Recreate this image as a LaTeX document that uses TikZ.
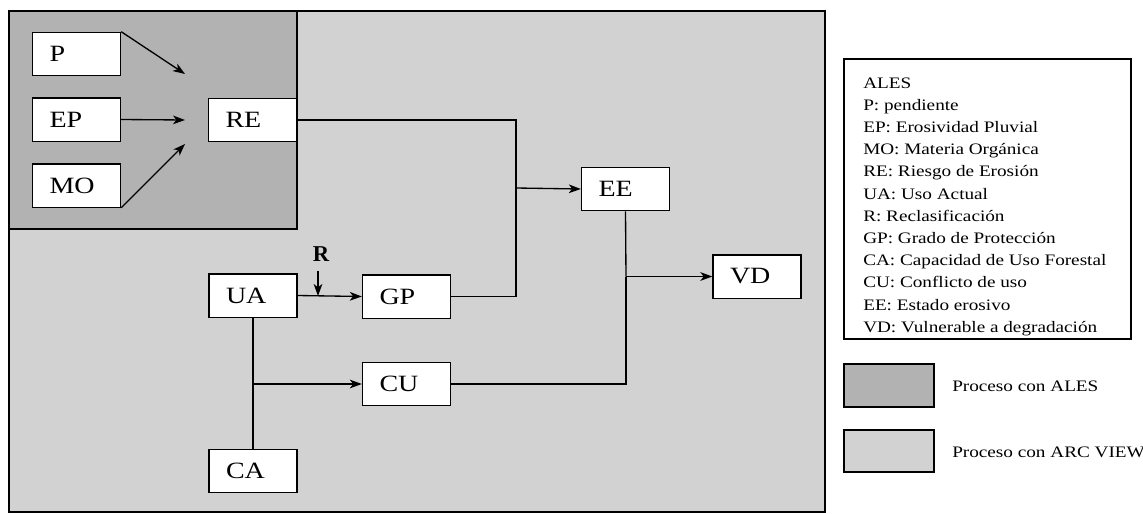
\documentclass[tikz,border=0pt]{standalone}
\usepackage{fontspec}
\setmainfont{Liberation Serif}
\newfontfamily\widefont[FakeStretch=1.2]{Liberation Serif}
\usetikzlibrary{arrows.meta}
\begin{document}
\begin{tikzpicture}[x=0.75pt,y=-0.75pt,
  box/.style={draw,fill=white,line width=1pt,minimum height=32.5pt,
    text width=40.5pt,inner xsep=12.75pt,align=left,font=\widefont\fontsize{17.5}{19}\selectfont},
  conn/.style={line width=1pt},
  arr/.style={conn,-{Stealth[length=9pt,width=6.5pt,inset=2.5pt]}},
  legtxt/.style={anchor=base west,inner sep=0pt,font=\widefont\fontsize{12}{13}\selectfont}]
\useasboundingbox (0,0) rectangle (1143,514);
% regions
\path[draw,line width=1pt,fill=gray!35] (9,11) rectangle (825,512);
\path[draw,line width=1pt,fill=gray!60] (9,11) rectangle (297,229);
% nodes
\node[box] (P) at (76.5,54) {P};
\node[box] (EP) at (76.5,119.5) {EP};
\node[box] (MO) at (76.5,185.5) {MO};
\node[box] (RE) at (252.5,120) {RE};
\node[box] (EE) at (625.5,189) {EE};
\node[box] (VD) at (757,276.5) {VD};
\node[box] (UA) at (253,295.5) {UA};
\node[box] (GP) at (406.5,296.5) {GP};
\node[box] (CU) at (406.5,384) {CU};
\node[box] (CA) at (253,471) {CA};
\node[font=\bfseries\fontsize{17}{18}\selectfont,inner sep=1pt] (R) at (321,254) {R};
% junction coordinates
\coordinate (cP) at (185,74);
\coordinate (cE) at (185,120);
\coordinate (cM) at (185,144);
\coordinate (j) at (516,188);
\coordinate (k) at (626,276.5);
\coordinate (m) at (253,384);
\coordinate (r) at (318,296);
% connectors
\draw[arr] (P.north east) -- (cP);
\draw[arr] (EP.east) -- (cE);
\draw[arr] (MO.south east) -- (cM);
\draw[conn] (RE.east) -| (j);
\draw[conn] (GP.east) -| (j);
\draw[arr] (j) -- (EE.west);
\draw[conn] (EE.south) -- (k);
\draw[conn] (CU.east) -| (k);
\draw[arr] (k) -- (VD.west);
\draw[conn] (UA.south) -- (CA.north);
\draw[arr] (m) -- (CU.west);
\draw[arr] (UA.east) -- (GP.west);
\draw[arr] (318,271) -- (r);
% legend
\draw[line width=0.8pt] (844,59) rectangle (1131,339);
\node[legtxt] (l1) at (863,88) {ALES};
\node[legtxt] (l2) at (863,110.2) {P: pendiente};
\node[legtxt] (l3) at (863,132.4) {EP: Erosividad Pluvial};
\node[legtxt] (l4) at (863,154.6) {MO: Materia Orgánica};
\node[legtxt] (l5) at (863,176.8) {RE: Riesgo de Erosión};
\node[legtxt] (l6) at (863,199) {UA: Uso Actual};
\node[legtxt] (l7) at (863,221.2) {R: Reclasificación};
\node[legtxt] (l8) at (863,243.4) {GP: Grado de Protección};
\node[legtxt] (l9) at (863,265.6) {CA: Capacidad de Uso Forestal};
\node[legtxt] (l10) at (863,287.8) {CU: Conflicto de uso};
\node[legtxt] (l11) at (863,310) {EE: Estado erosivo};
\node[legtxt] (l12) at (863,332.2) {VD: Vulnerable a degradación};
\draw[line width=1.2pt,fill=gray!60] (844,364) rectangle (934,407);
\draw[line width=1.2pt,fill=gray!35] (844,430) rectangle (934,472);
\node[legtxt] (s1) at (952,391) {Proceso con ALES};
\node[legtxt] (s2) at (952,457) {Proceso con ARC VIEW};
\end{tikzpicture}
\end{document}
